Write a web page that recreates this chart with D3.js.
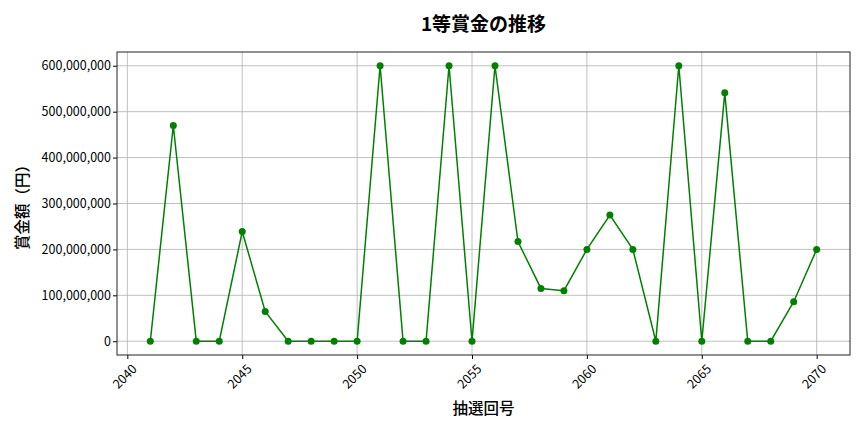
<!DOCTYPE html>
<html lang="ja">
<head>
    <meta charset="UTF-8">
    <script src="https://d3js.org/d3.v7.min.js"></script>
    <title>1等賞金の推移</title>
    <style>
        body { margin: 0; background: #fff; }
        svg { display: block; font-family: "Noto Sans CJK JP", "Noto Sans", sans-serif; }
        .tick text { font-size: 12.5px; fill: #000; font-family: "Noto Sans CJK JP", "Noto Sans", sans-serif; }
        .grid line { stroke: #b0b0b0; stroke-width: 0.8; }
    </style>
</head>
<body>
    <script>
        const draws = [2041, 2042, 2043, 2044, 2045, 2046, 2047, 2048, 2049, 2050,
                       2051, 2052, 2053, 2054, 2055, 2056, 2057, 2058, 2059, 2060,
                       2061, 2062, 2063, 2064, 2065, 2066, 2067, 2068, 2069, 2070];
        const prizes = [0, 470000000, 0, 0, 239000000, 65000000, 0, 0, 0, 0,
                        600000000, 0, 0, 600000000, 0, 600000000, 217000000, 115000000, 110000000, 200000000,
                        275000000, 200000000, 0, 600000000, 0, 541000000, 0, 0, 86000000, 200000000];
        const xTicks = [2040, 2045, 2050, 2055, 2060, 2065, 2070];
        const yTicks = [0, 100000000, 200000000, 300000000, 400000000, 500000000, 600000000];

        const title = '1等賞金の推移';
        const xLabel = '抽選回号';
        const yLabel = '賞金額（円）';

        const width = 864;
        const height = 432;
        const margin = {top: 52, right: 14, bottom: 77, left: 117};

        const data = draws.map((d, i) => ({draw: d, prize: prizes[i]}));

        // matplotlib style 5% padding on both axes
        const xPad = (d3.max(draws) - d3.min(draws)) * 0.05;
        const yPad = (d3.max(prizes) - d3.min(prizes)) * 0.05;

        const x = d3.scaleLinear()
            .domain([d3.min(draws) - xPad, d3.max(draws) + xPad])
            .range([margin.left, width - margin.right]);

        const y = d3.scaleLinear()
            .domain([d3.min(prizes) - yPad, d3.max(prizes) + yPad])
            .range([height - margin.bottom, margin.top]);

        const svg = d3.select('body')
            .append('svg')
            .attr('width', width)
            .attr('height', height);

        // grid
        svg.append('g')
            .attr('class', 'grid')
            .selectAll('line.v')
            .data(xTicks).enter()
            .append('line')
            .attr('x1', d => x(d)).attr('x2', d => x(d))
            .attr('y1', margin.top).attr('y2', height - margin.bottom);

        svg.append('g')
            .attr('class', 'grid')
            .selectAll('line.h')
            .data(yTicks).enter()
            .append('line')
            .attr('y1', d => y(d)).attr('y2', d => y(d))
            .attr('x1', margin.left).attr('x2', width - margin.right);

        // axes
        const xAxis = d3.axisBottom(x)
            .tickValues(xTicks)
            .tickFormat(d3.format('d'))
            .tickSizeOuter(0)
            .tickSize(4);

        const yAxis = d3.axisLeft(y)
            .tickValues(yTicks)
            .tickFormat(d3.format(','))
            .tickSizeOuter(0)
            .tickSize(4);

        const gx = svg.append('g')
            .attr('transform', `translate(0, ${height - margin.bottom})`)
            .call(xAxis);
        gx.select('.domain').remove();
        gx.selectAll('.tick text')
            .attr('text-anchor', 'end')
            .attr('dx', '0')
            .attr('dy', '0')
            .attr('transform', 'translate(5, 10) rotate(-45)');

        const gy = svg.append('g')
            .attr('transform', `translate(${margin.left}, 0)`)
            .call(yAxis);
        gy.select('.domain').remove();
        gy.selectAll('.tick text').attr('x', -6);

        // frame
        svg.append('rect')
            .attr('x', margin.left)
            .attr('y', margin.top)
            .attr('width', width - margin.left - margin.right)
            .attr('height', height - margin.top - margin.bottom)
            .attr('fill', 'none')
            .attr('stroke', '#222')
            .attr('stroke-width', 1);

        // line + markers
        const line = d3.line()
            .x(d => x(d.draw))
            .y(d => y(d.prize));

        svg.append('path')
            .datum(data)
            .attr('fill', 'none')
            .attr('stroke', 'green')
            .attr('stroke-width', 1.5)
            .attr('d', line);

        svg.selectAll('circle')
            .data(data).enter()
            .append('circle')
            .attr('cx', d => x(d.draw))
            .attr('cy', d => y(d.prize))
            .attr('r', 3.5)
            .attr('fill', 'green');

        // labels
        svg.append('text')
            .attr('x', (margin.left + width - margin.right) / 2)
            .attr('y', 31)
            .attr('text-anchor', 'middle')
            .attr('font-size', 19)
            .attr('font-weight', 'bold')
            .text(title);

        svg.append('text')
            .attr('x', (margin.left + width - margin.right) / 2)
            .attr('y', 414)
            .attr('text-anchor', 'middle')
            .attr('font-size', 15.5)
            .attr('font-weight', 500)
            .text(xLabel);

        svg.append('text')
            .attr('transform', `translate(28, ${(margin.top + height - margin.bottom) / 2}) rotate(-90)`)
            .attr('text-anchor', 'middle')
            .attr('font-size', 15.5)
            .attr('font-weight', 500)
            .text(yLabel);
    </script>
</body>
</html>
